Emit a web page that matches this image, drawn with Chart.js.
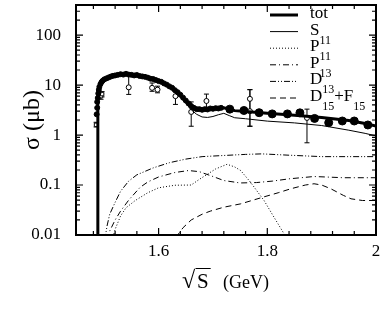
<!DOCTYPE html>
<html>
<head>
<meta charset="utf-8">
<script src="https://cdn.jsdelivr.net/npm/chart.js@4.4.0/dist/chart.umd.min.js"></script>
<style>
  html, body { margin: 0; padding: 0; background: #fff; }
  #wrap { width: 382px; height: 317px; position: relative; }
</style>
</head>
<body>
<div id="wrap"><canvas id="chart"></canvas></div>
<script>
// axis ranges and tick labels
const xMin = 1.448, xMax = 2.0;
const yMin = 0.01, yMax = 400;
const xTickVals = [1.48, 1.52, 1.56, 1.6, 1.64, 1.68, 1.72, 1.76, 1.8, 1.84, 1.88, 1.92, 1.96, 2.0];
const xLabelVals = [1.6, 1.8, 2.0];
const xLabelText = ['1.6', '1.8', '2'];
const yLabelVals = [0.01, 0.1, 1, 10, 100];
const yLabelText = ['0.01', '0.1', '1', '10', '100'];

// model curves
const curveX = [1.4881, 1.4882, 1.489, 1.491, 1.494, 1.498, 1.503, 1.51, 1.52, 1.53, 1.54, 1.55, 1.56, 1.57, 1.58, 1.59, 1.60, 1.61, 1.62, 1.63, 1.64, 1.65, 1.66, 1.67, 1.68, 1.69, 1.70, 1.71, 1.72, 1.73, 1.74, 1.76, 1.80, 1.85, 1.90, 1.95, 1.98, 2.00];
const totY   = [0.001, 6, 8.5, 10, 11.5, 12.8, 13.8, 14.8, 15.6, 16.2, 16.5, 16.4, 16.0, 15.4, 14.6, 13.6, 12.4, 10.9, 9.4, 7.8, 6.2, 4.8, 3.85, 3.4, 3.3, 3.33, 3.4, 3.45, 3.5, 3.3, 3.08, 2.95, 2.72, 2.5, 2.25, 1.95, 1.7, 1.52];
const s11Y   = [0.001, 5.6, 7.9, 9.3, 10.7, 11.9, 12.8, 13.8, 14.5, 15.1, 15.3, 15.2, 14.9, 14.3, 13.6, 12.6, 11.5, 10.1, 8.7, 7.2, 5.7, 4.3, 3.2, 2.6, 2.3, 2.25, 2.35, 2.55, 2.72, 2.45, 2.22, 2.12, 1.9, 1.75, 1.55, 1.25, 1.08, 0.96];

const p11X = [1.515, 1.52, 1.53, 1.54, 1.557, 1.58, 1.60, 1.63, 1.66, 1.675, 1.69, 1.705, 1.726, 1.74, 1.751, 1.769, 1.794, 1.812, 1.831, 1.84];
const p11Y = [0.008, 0.013, 0.024, 0.035, 0.049, 0.07, 0.088, 0.099, 0.1, 0.13, 0.165, 0.21, 0.26, 0.23, 0.195, 0.114, 0.049, 0.023, 0.0105, 0.007];

const p13X = [1.506, 1.51, 1.52, 1.53, 1.545, 1.566, 1.58, 1.60, 1.63, 1.655, 1.675, 1.70, 1.72, 1.75, 1.78, 1.81, 1.84, 1.886, 1.94, 2.0];
const p13Y = [0.008, 0.012, 0.02, 0.03, 0.05, 0.09, 0.115, 0.145, 0.178, 0.195, 0.185, 0.148, 0.123, 0.11, 0.112, 0.12, 0.133, 0.148, 0.14, 0.14];

const d13X = [1.501, 1.505, 1.51, 1.52, 1.53, 1.545, 1.56, 1.59, 1.62, 1.65, 1.68, 1.72, 1.76, 1.79, 1.84, 1.9, 1.95, 2.0];
const d13Y = [0.008, 0.015, 0.026, 0.045, 0.075, 0.12, 0.16, 0.22, 0.28, 0.33, 0.37, 0.39, 0.41, 0.42, 0.395, 0.37, 0.37, 0.37];

const d15X = [1.632, 1.645, 1.66, 1.68, 1.695, 1.72, 1.751, 1.794, 1.82, 1.843, 1.87, 1.886, 1.90, 1.917, 1.94, 1.954, 1.975, 2.0];
const d15Y = [0.009, 0.014, 0.02, 0.026, 0.03, 0.036, 0.042, 0.058, 0.07, 0.084, 0.1, 0.106, 0.1, 0.084, 0.062, 0.053, 0.049, 0.049];

// experimental points
const expAX = [1.486, 1.487, 1.487, 1.488, 1.489, 1.49, 1.491, 1.493, 1.495, 1.497, 1.5, 1.504, 1.508, 1.512, 1.516, 1.52, 1.525, 1.53, 1.535, 1.54, 1.545, 1.55, 1.555, 1.56, 1.565, 1.57, 1.575, 1.58, 1.585, 1.59, 1.595, 1.60, 1.605, 1.61, 1.615, 1.62, 1.625, 1.63, 1.635, 1.64, 1.645, 1.65, 1.655, 1.66, 1.665, 1.67, 1.675, 1.68, 1.685, 1.69, 1.695, 1.70, 1.705, 1.71, 1.715];
const expAY = [2.6, 3.5, 4.6, 5.5, 6.8, 8, 9.2, 10.5, 11.5, 12.2, 13, 13.6, 14.2, 14.8, 15.3, 15.6, 16, 16.5, 16.2, 16.8, 16.2, 16, 15.6, 15.9, 15.2, 14.9, 14.6, 14.1, 13.4, 13.2, 12.6, 12.0, 11.6, 10.8, 10.2, 9.4, 8.8, 7.9, 7.2, 6.4, 5.6, 4.9, 4.3, 3.8, 3.5, 3.3, 3.3, 3.2, 3.3, 3.25, 3.4, 3.35, 3.45, 3.4, 3.5];

const expBX  = [1.731, 1.757, 1.785, 1.809, 1.837, 1.860, 1.887, 1.913, 1.938, 1.960, 1.985];
const expBY  = [3.3, 3.1, 2.8, 2.65, 2.65, 2.78, 2.15, 1.77, 1.91, 1.91, 1.59];
const expBLo = [3.0, 2.8, 2.5, 2.4, 2.4, 2.5, 1.9, 1.6, 1.7, 1.7, 1.4];
const expBHi = [3.6, 3.4, 3.1, 2.9, 2.9, 3.05, 2.4, 1.95, 2.1, 2.1, 1.78];

const expCX  = [1.545, 1.588, 1.598, 1.631, 1.660, 1.688, 1.768, 1.768, 1.873];
const expCY  = [9.0, 8.8, 8.1, 6.0, 2.9, 4.8, 5.3, 3.0, 2.2];
const expCLo = [6.5, 7.5, 7.0, 4.1, 1.5, 3.2, 1.5, 1.5, 0.7];
const expCHi = [16, 11, 9.5, 7.8, 4.6, 6.6, 8.1, 8.1, 3.3];

const expDX  = [1.485, 1.494, 1.496];
const expDY  = [1.6, 6.0, 6.6];
const expDLo = [1.45, 5.2, 5.8];
const expDHi = [1.8, 6.8, 7.4];

const serif = '"Liberation Serif", "Times New Roman", serif';
const pts = (xs, ys) => xs.map((v, i) => ({ x: v, y: ys[i] }));
const near = (a, b) => Math.abs(a - b) < 1e-9;

// minor log ticks between the decades
const yTickVals = [];
yLabelVals.forEach(d => {
    for (let m = 1; m < 10; m++) {
        if (d * m <= yMax) yTickVals.push(d * m);
    }
});

const curve = (label, xs, ys, width, dash) => ({
    label, data: pts(xs, ys), showLine: true, inLegend: true,
    borderColor: '#000', borderWidth: width, borderDash: dash,
    pointRadius: 0, tension: 0, fill: false
});
const marks = (xs, ys, r, fill, style) => ({
    label: 'data', data: pts(xs, ys), showLine: false,
    pointStyle: style || 'circle', pointRadius: r,
    pointBackgroundColor: fill, pointBorderColor: '#000', pointBorderWidth: 1
});

const errorSets = [
    { xs: expBX, lo: expBLo, hi: expBHi },
    { xs: expCX, lo: expCLo, hi: expCHi },
    { xs: expDX, lo: expDLo, hi: expDHi }
];

const errorBars = {
    id: 'errorBars',
    beforeDatasetsDraw(chart) {
        const { ctx, scales: { x, y }, chartArea: a } = chart;
        ctx.save();
        ctx.beginPath(); ctx.rect(a.left, a.top, a.width, a.height); ctx.clip();
        ctx.strokeStyle = '#000'; ctx.lineWidth = 1;
        errorSets.forEach(s => s.xs.forEach((v, i) => {
            const px = x.getPixelForValue(v);
            const t = y.getPixelForValue(s.hi[i]), b = y.getPixelForValue(s.lo[i]);
            ctx.beginPath();
            ctx.moveTo(px, t); ctx.lineTo(px, b);
            ctx.moveTo(px - 2.5, t); ctx.lineTo(px + 2.5, t);
            ctx.moveTo(px - 2.5, b); ctx.lineTo(px + 2.5, b);
            ctx.stroke();
        }));
        ctx.restore();
    }
};

// box with inward ticks on all four sides, legend and x title
const frame = {
    id: 'frame',
    afterDraw(chart) {
        const { ctx, scales: { x, y }, chartArea: a } = chart;
        ctx.save();
        ctx.strokeStyle = '#000';
        ctx.lineWidth = 1.2;
        ctx.beginPath();
        xTickVals.forEach(v => {
            const px = x.getPixelForValue(v);
            const len = xLabelVals.some(l => near(l, v)) ? 7 : 4;
            ctx.moveTo(px, a.bottom); ctx.lineTo(px, a.bottom - len);
            ctx.moveTo(px, a.top); ctx.lineTo(px, a.top + len);
        });
        yTickVals.forEach(v => {
            const py = y.getPixelForValue(v);
            const len = yLabelVals.some(l => near(l, v)) ? 7 : 4;
            ctx.moveTo(a.left, py); ctx.lineTo(a.left + len, py);
            ctx.moveTo(a.right, py); ctx.lineTo(a.right - len, py);
        });
        ctx.stroke();
        ctx.lineWidth = 2;
        ctx.strokeRect(a.left, a.top, a.width, a.height);

        // legend
        ctx.fillStyle = '#000';
        ctx.textBaseline = 'alphabetic';
        chart.data.datasets.filter(d => d.inLegend).forEach((d, i) => {
            const yy = 15 + i * 16.6;
            ctx.lineWidth = d.borderWidth;
            ctx.setLineDash(d.borderDash);
            ctx.beginPath(); ctx.moveTo(270, yy); ctx.lineTo(298, yy); ctx.stroke();
            ctx.setLineDash([]);
            let tx = 310;
            d.label.split(/(\d+)/).forEach(part => {
                if (!part) return;
                const sub = /^\d+$/.test(part);
                ctx.font = (sub ? '12px ' : '17px ') + serif;
                ctx.fillText(part, tx, yy + (sub ? 12 : 3));
                tx += ctx.measureText(part).width;
            });
        });

        // x title: sqrt(S) (GeV)
        const base = 288;
        ctx.font = '24px ' + serif;
        const rm = ctx.measureText('√');
        ctx.fillText('√', 182, base);
        const topY = base - rm.actualBoundingBoxAscent + 0.5;
        const sx = 182 + rm.actualBoundingBoxRight;
        ctx.font = '21px ' + serif;
        ctx.fillText('S', sx + 1, base);
        const sw = ctx.measureText('S').width;
        ctx.lineWidth = 1;
        ctx.beginPath(); ctx.moveTo(sx - 0.5, topY); ctx.lineTo(sx + sw + 3, topY); ctx.stroke();
        ctx.font = '18px ' + serif;
        ctx.fillText('(GeV)', 223, base);
        ctx.restore();
    }
};

new Chart(document.getElementById('chart'), {
    type: 'scatter',
    data: {
        datasets: [
            curve('tot', curveX, totY, 3, []),
            curve('S11', curveX, s11Y, 1, []),
            curve('P11', p11X, p11Y, 1, [1, 2]),
            curve('P13', p13X, p13Y, 1, [6, 3, 1, 3]),
            curve('D13', d13X, d13Y, 1, [6, 2, 1, 2, 1, 2]),
            curve('D15+F15', d15X, d15Y, 1, [6, 4]),
            marks(expAX, expAY, 2.5, '#000'),
            marks(expBX, expBY, 4, '#000'),
            marks(expCX, expCY, 2.5, '#fff'),
            marks(expDX, expDY, 2.5, '#fff', 'rect')
        ]
    },
    options: {
        responsive: true,
        maintainAspectRatio: false,
        animation: false,
        events: [],
        layout: { padding: { left: 0, right: 6, top: 3, bottom: 0 } },
        plugins: { legend: { display: false }, tooltip: { enabled: false } },
        scales: {
            x: {
                type: 'linear', min: xMin, max: xMax,
                afterBuildTicks: s => { s.ticks = xTickVals.map(v => ({ value: v })); },
                afterFit: s => { s.height = 82; s.paddingLeft = 0; s.paddingRight = 0; },
                grid: { display: false }, border: { display: false },
                ticks: {
                    autoSkip: false, maxRotation: 0, padding: -2, color: '#000',
                    font: { family: serif, size: 17 },
                    callback: v => {
                        const i = xLabelVals.findIndex(l => near(l, v));
                        return i < 0 ? '' : xLabelText[i];
                    }
                }
            },
            y: {
                type: 'logarithmic', min: yMin, max: yMax,
                afterBuildTicks: s => { s.ticks = yTickVals.map(v => ({ value: v })); },
                afterFit: s => { s.width = 76; s.paddingTop = 0; s.paddingBottom = 0; },
                grid: { display: false }, border: { display: false },
                ticks: {
                    autoSkip: false, padding: 7, color: '#000',
                    font: { family: serif, size: 17 },
                    callback: v => {
                        const i = yLabelVals.findIndex(l => near(l, v));
                        return i < 0 ? '' : yLabelText[i];
                    }
                },
                title: {
                    display: true, text: 'σ (μb)', color: '#000',
                    font: { family: serif, size: 24 },
                    padding: { top: 18, bottom: 0 }
                }
            }
        }
    },
    plugins: [errorBars, frame]
});
</script>
</body>
</html>
